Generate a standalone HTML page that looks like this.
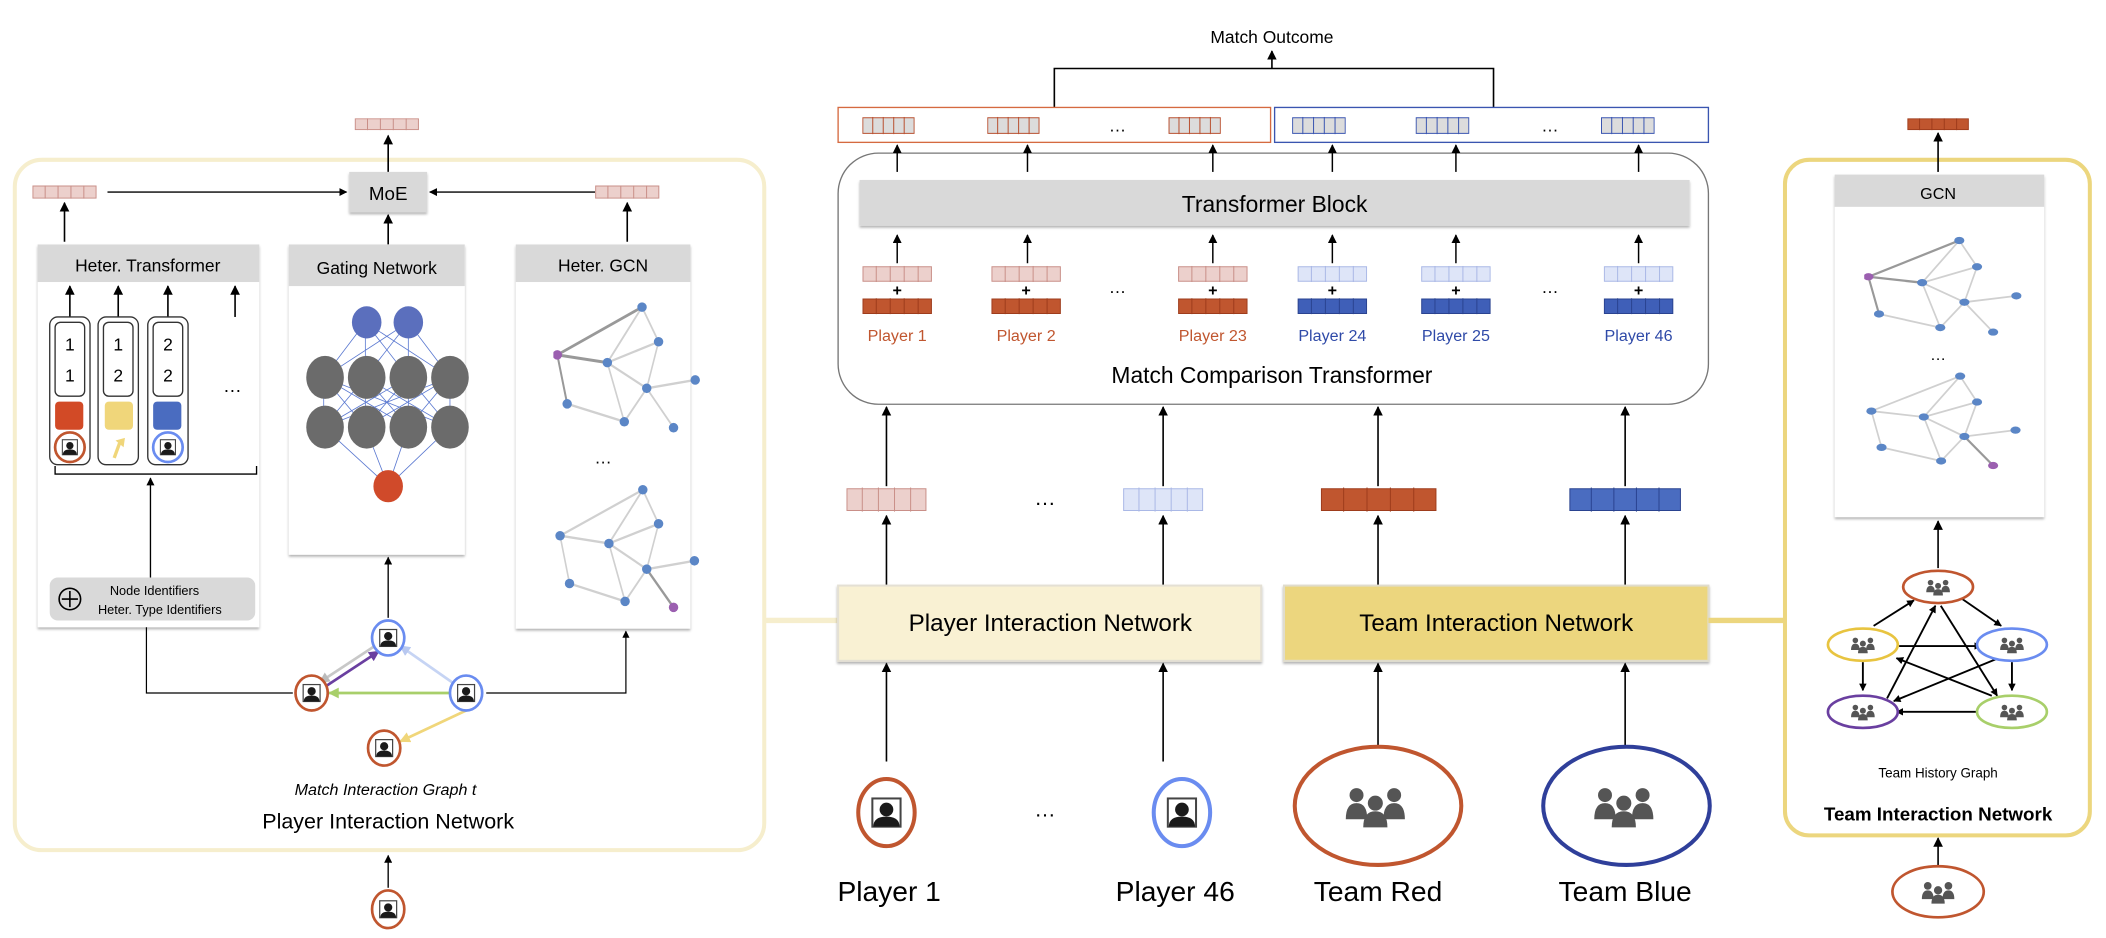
<!DOCTYPE html>
<html><head><meta charset="utf-8"><style>
html,body{margin:0;padding:0;background:#fff}
svg{display:block}
text{font-family:"Liberation Sans",sans-serif}
</style></head><body>
<svg width="2106" height="938" viewBox="0 0 1568 698.4" xmlns="http://www.w3.org/2000/svg">
<defs>
<marker id="ah" viewBox="0 0 10 10" refX="9" refY="5" markerWidth="6" markerHeight="6" orient="auto-start-reverse"><path d="M0 0L10 5L0 10z" fill="#000"/></marker>
<marker id="ahs" viewBox="0 0 10 10" refX="9" refY="5" markerWidth="4" markerHeight="4" orient="auto"><path d="M0 0L10 5L0 10z" fill="#000"/></marker>
<marker id="mg" viewBox="0 0 10 10" refX="9" refY="5" markerWidth="4" markerHeight="4" orient="auto"><path d="M0 0L10 5L0 10z" fill="#bbb"/></marker>
<marker id="mp" viewBox="0 0 10 10" refX="9" refY="5" markerWidth="4" markerHeight="4" orient="auto"><path d="M0 0L10 5L0 10z" fill="#6a3fa0"/></marker>
<marker id="mb" viewBox="0 0 10 10" refX="9" refY="5" markerWidth="4" markerHeight="4" orient="auto"><path d="M0 0L10 5L0 10z" fill="#b8c8f0"/></marker>
<marker id="mgr" viewBox="0 0 10 10" refX="9" refY="5" markerWidth="4" markerHeight="4" orient="auto"><path d="M0 0L10 5L0 10z" fill="#a8cf6a"/></marker>
<marker id="my" viewBox="0 0 10 10" refX="9" refY="5" markerWidth="4" markerHeight="4" orient="auto"><path d="M0 0L10 5L0 10z" fill="#f0d67a"/></marker>
<symbol id="v" viewBox="0 0 50 10" preserveAspectRatio="none"><rect x="0.5" y="0.5" width="49" height="9" vector-effect="non-scaling-stroke"/><path d="M10 0v10M20 0v10M30 0v10M40 0v10" vector-effect="non-scaling-stroke"/></symbol>
<symbol id="p" viewBox="-10 -10 20 20"><rect x="-7" y="-7" width="14" height="14" fill="#fff" stroke="#444" stroke-width="1"/><circle cx="0" cy="-1.5" r="3.4" fill="#1a1a1a"/><path d="M-6.5 7Q-6.5 2 0 2Q6.5 2 6.5 7z" fill="#1a1a1a"/></symbol>
<symbol id="t" viewBox="-12 -10 24 20"><g fill="#555"><circle cx="-7" cy="-4" r="2.6"/><circle cx="7" cy="-4" r="2.6"/><path d="M-11 5Q-11 -1 -7 -1Q-3 -1 -3 5z"/><path d="M3 5Q3 -1 7 -1Q11 -1 11 5z"/><circle cx="0" cy="-1" r="2.8"/><path d="M-4.5 8Q-4.5 2 0 2Q4.5 2 4.5 8z"/></g></symbol>
<symbol id="g1" viewBox="375 225 375 225" preserveAspectRatio="none">
<g stroke="#d0d0d0" stroke-width="4" fill="none"><path d="M600 240L512 333M600 240L642 298M512 333L642 298M512 333L612 376M642 298L612 376M612 376L735 362M612 376L555 432M612 376L680 442M512 333L555 432M410 402L555 432"/></g>
<g stroke="#999" stroke-width="5"><path d="M385 320L600 240M385 320L512 333M385 320L410 402"/></g>
<g fill="#5b86c6"><ellipse cx="600" cy="240" rx="12" ry="8"/><ellipse cx="642" cy="298" rx="12" ry="8"/><ellipse cx="512" cy="333" rx="12" ry="8"/><ellipse cx="612" cy="376" rx="12" ry="8"/><ellipse cx="735" cy="362" rx="12" ry="8"/><ellipse cx="410" cy="402" rx="12" ry="8"/><ellipse cx="555" cy="432" rx="12" ry="8"/><ellipse cx="680" cy="442" rx="12" ry="8"/></g><ellipse cx="385" cy="320" rx="12" ry="8" fill="#9b5fb0"/></symbol>
<symbol id="g2" viewBox="375 528 375 225" preserveAspectRatio="none">
<g stroke="#d0d0d0" stroke-width="4" fill="none"><path d="M392 620L602 543M602 543L516 633M602 543L642 600M516 633L642 600M392 620L516 633M392 620L416 700M516 633L612 676M516 633L557 730M642 600L612 676M612 676L733 662M612 676L557 730M416 700L557 730"/></g>
<path d="M612 676L680 740" stroke="#999" stroke-width="5"/>
<g fill="#5b86c6"><ellipse cx="602" cy="543" rx="12" ry="8"/><ellipse cx="642" cy="600" rx="12" ry="8"/><ellipse cx="392" cy="620" rx="12" ry="8"/><ellipse cx="516" cy="633" rx="12" ry="8"/><ellipse cx="612" cy="676" rx="12" ry="8"/><ellipse cx="733" cy="662" rx="12" ry="8"/><ellipse cx="416" cy="700" rx="12" ry="8"/><ellipse cx="557" cy="730" rx="12" ry="8"/></g><ellipse cx="680" cy="740" rx="12" ry="8" fill="#9b5fb0"/></symbol>
<filter id="sh" x="-5%" y="-5%" width="110%" height="115%"><feDropShadow dx="0" dy="1.5" stdDeviation="1" flood-color="#000" flood-opacity="0.3"/></filter>
</defs>

<!-- ============ LEFT PANEL ============ -->
<rect x="11" y="119" width="558" height="514" rx="20" fill="none" stroke="#f6eecd" stroke-width="3"/>
<line x1="570" y1="462" x2="624" y2="462" stroke="#f6eecd" stroke-width="4"/>
<use href="#v" x="264" y="88" width="48" height="9" fill="#ecd0cc" stroke="#c98f88"/>
<line x1="289" y1="128" x2="289" y2="101" stroke="#000" stroke-width="1.2" marker-end="url(#ah)"/>
<rect x="260" y="128" width="58" height="30" fill="#d9d9d9" filter="url(#sh)"/>
<text x="289" y="149" font-size="14" text-anchor="middle">MoE</text>
<use href="#v" x="24" y="138" width="48" height="10" fill="#ecd0cc" stroke="#c98f88"/>
<use href="#v" x="443" y="138" width="48" height="10" fill="#ecd0cc" stroke="#c98f88"/>
<line x1="80" y1="143" x2="258" y2="143" stroke="#000" stroke-width="1" marker-end="url(#ah)"/>
<line x1="443" y1="143" x2="320" y2="143" stroke="#000" stroke-width="1" marker-end="url(#ah)"/>
<line x1="48" y1="180" x2="48" y2="151" stroke="#000" stroke-width="1.2" marker-end="url(#ah)"/>
<line x1="467" y1="180" x2="467" y2="151" stroke="#000" stroke-width="1.2" marker-end="url(#ah)"/>
<line x1="289" y1="182" x2="289" y2="160" stroke="#000" stroke-width="1.2" marker-end="url(#ah)"/>

<!-- Heter Transformer -->
<rect x="28" y="182" width="165" height="285" fill="#fff" filter="url(#sh)"/>
<rect x="28" y="182" width="165" height="28" fill="#d9d9d9"/>
<text x="110" y="202" font-size="13" text-anchor="middle">Heter. Transformer</text>
<g stroke="#000" stroke-width="1.2"><line x1="52" y1="236" x2="52" y2="213" marker-end="url(#ah)"/><line x1="88" y1="236" x2="88" y2="213" marker-end="url(#ah)"/><line x1="125" y1="236" x2="125" y2="213" marker-end="url(#ah)"/><line x1="175" y1="236" x2="175" y2="213" marker-end="url(#ah)"/></g>
<g fill="none" stroke="#333" stroke-width="1"><rect x="37" y="236" width="30" height="110" rx="6"/><rect x="73" y="236" width="30" height="110" rx="6"/><rect x="110" y="236" width="30" height="110" rx="6"/>
<rect x="41" y="240" width="22" height="55" rx="4"/><rect x="77" y="240" width="22" height="55" rx="4"/><rect x="114" y="240" width="22" height="55" rx="4"/></g>
<g font-size="13" text-anchor="middle"><text x="52" y="261">1</text><text x="52" y="284">1</text><text x="88" y="261">1</text><text x="88" y="284">2</text><text x="125" y="261">2</text><text x="125" y="284">2</text></g>
<rect x="41" y="299" width="21" height="21" rx="3" fill="#d24a26"/>
<rect x="78" y="299" width="21" height="21" rx="3" fill="#f0d67a"/>
<rect x="114" y="299" width="21" height="21" rx="3" fill="#4a6cc0"/>
<circle cx="52" cy="333" r="11" fill="#fff" stroke="#c0562f" stroke-width="2"/><use href="#p" x="44" y="325" width="16" height="16"/>
<circle cx="125" cy="333" r="11" fill="#fff" stroke="#6a8cf0" stroke-width="2"/><use href="#p" x="117" y="325" width="16" height="16"/>
<path d="M85 341L89 330" stroke="#f0d67a" stroke-width="2.5"/><path d="M86 328L93 326L92 333z" fill="#f0d67a"/>
<text x="173" y="292" font-size="14" text-anchor="middle">…</text>
<path d="M41 347v6h150v-6" fill="none" stroke="#000" stroke-width="1"/>
<line x1="112" y1="430" x2="112" y2="356" stroke="#000" stroke-width="1" marker-end="url(#ah)"/>
<rect x="37" y="430" width="153" height="32" rx="6" fill="#d9d9d9"/>
<circle cx="52" cy="446" r="8" fill="none" stroke="#000" stroke-width="1.2"/><path d="M46 446h12M52 440v12" stroke="#000" stroke-width="1.2"/>
<text x="115" y="443" font-size="9.5" text-anchor="middle">Node Identifiers</text>
<text x="119" y="457" font-size="9.5" text-anchor="middle">Heter. Type Identifiers</text>

<!-- Gating -->
<rect x="215" y="182" width="131" height="231" fill="#fff" filter="url(#sh)"/>
<rect x="215" y="182" width="131" height="31" fill="#d9d9d9"/>
<text x="280.5" y="204" font-size="13" text-anchor="middle">Gating Network</text>
<g stroke="#5a78d0" stroke-width="0.6">
<path d="M272 240L241 281M272 240L272 281M272 240L304 281M272 240L335 281M304 240L241 281M304 240L272 281M304 240L304 281M304 240L335 281"/>
<path d="M241 281L241 318M241 281L272 318M241 281L304 318M241 281L335 318M272 281L241 318M272 281L272 318M272 281L304 318M272 281L335 318M304 281L241 318M304 281L272 318M304 281L304 318M304 281L335 318M335 281L241 318M335 281L272 318M335 281L304 318M335 281L335 318"/>
<path d="M241 318L289 362M272 318L289 362M304 318L289 362M335 318L289 362"/></g>
<g fill="#5b6fbd"><ellipse cx="273" cy="240" rx="11" ry="12"/><ellipse cx="304" cy="240" rx="11" ry="12"/></g>
<g fill="#6b6b6b"><ellipse cx="242" cy="281" rx="14" ry="16"/><ellipse cx="273" cy="281" rx="14" ry="16"/><ellipse cx="304" cy="281" rx="14" ry="16"/><ellipse cx="335" cy="281" rx="14" ry="16"/><ellipse cx="242" cy="318" rx="14" ry="16"/><ellipse cx="273" cy="318" rx="14" ry="16"/><ellipse cx="304" cy="318" rx="14" ry="16"/><ellipse cx="335" cy="318" rx="14" ry="16"/></g>
<ellipse cx="289" cy="362" rx="11" ry="12" fill="#d04a2a"/>

<!-- Heter GCN -->
<rect x="384" y="182" width="130" height="286" fill="#fff" filter="url(#sh)"/>
<rect x="384" y="182" width="130" height="28" fill="#d9d9d9"/>
<text x="449" y="202" font-size="13" text-anchor="middle">Heter. GCN</text>
<use href="#g1" x="412" y="222" width="110" height="100"/>
<text x="449" y="345" font-size="13" text-anchor="middle">…</text>
<use href="#g2" x="412" y="358" width="110" height="100"/>

<!-- match interaction graph -->
<path d="M109 467V516H218" fill="none" stroke="#000" stroke-width="0.9"/>
<path d="M362 516H466V470" fill="none" stroke="#000" stroke-width="0.9" marker-end="url(#ah)"/>
<line x1="289" y1="460" x2="289" y2="415" stroke="#000" stroke-width="1" marker-end="url(#ah)"/>
<line x1="279" y1="481" x2="238" y2="508" stroke="#c8c8c8" stroke-width="2" marker-end="url(#mg)"/>
<line x1="241" y1="512" x2="282" y2="485" stroke="#6a3fa0" stroke-width="2" marker-end="url(#mp)"/>
<line x1="338" y1="509" x2="298" y2="481" stroke="#c6d4f4" stroke-width="2" marker-end="url(#mb)"/>
<line x1="335" y1="516" x2="245" y2="516" stroke="#a8cf6a" stroke-width="2" marker-end="url(#mgr)"/>
<line x1="347" y1="529" x2="298" y2="552" stroke="#f0d67a" stroke-width="2" marker-end="url(#my)"/>
<ellipse cx="289" cy="475" rx="12" ry="13" fill="#fff" stroke="#6a8cf0" stroke-width="2"/><use href="#p" x="280" y="466" width="18" height="18"/>
<ellipse cx="232" cy="516" rx="12" ry="13" fill="#fff" stroke="#c0562f" stroke-width="2"/><use href="#p" x="223" y="507" width="18" height="18"/>
<ellipse cx="347" cy="516" rx="12" ry="13" fill="#fff" stroke="#6a8cf0" stroke-width="2"/><use href="#p" x="338" y="507" width="18" height="18"/>
<ellipse cx="286" cy="557" rx="12" ry="13" fill="#fff" stroke="#c0562f" stroke-width="2"/><use href="#p" x="277" y="548" width="18" height="18"/>
<text x="287" y="592" font-size="12" font-style="italic" text-anchor="middle">Match Interaction Graph t</text>
<text x="289" y="617" font-size="16" text-anchor="middle">Player Interaction Network</text>
<line x1="289" y1="661" x2="289" y2="637" stroke="#000" stroke-width="1" marker-end="url(#ah)"/>
<ellipse cx="289" cy="677" rx="12" ry="14" fill="#fff" stroke="#c0562f" stroke-width="2"/><use href="#p" x="280" y="668" width="18" height="18"/>

<!-- ============ CENTER ============ -->
<text x="947" y="32" font-size="13" text-anchor="middle">Match Outcome</text>
<path d="M785 80V51H1112V80" fill="none" stroke="#000" stroke-width="1.2"/>
<line x1="947" y1="51" x2="947" y2="38" stroke="#000" stroke-width="1.2" marker-end="url(#ah)"/>
<rect x="624" y="80" width="322" height="26" fill="none" stroke="#d56a40" stroke-width="1"/>
<rect x="949" y="80" width="323" height="26" fill="none" stroke="#3a55b0" stroke-width="1"/>
<g fill="#dcdcdc" stroke="#b85030"><use href="#v" x="642" y="87" width="39" height="13"/><use href="#v" x="735" y="87" width="39" height="13"/><use href="#v" x="870" y="87" width="39" height="13"/></g>
<g fill="#dcdcdc" stroke="#3a55b0"><use href="#v" x="962" y="87" width="40" height="13"/><use href="#v" x="1054" y="87" width="40" height="13"/><use href="#v" x="1192" y="87" width="40" height="13"/></g>
<text x="832" y="98" font-size="13" text-anchor="middle">…</text><text x="1154" y="98" font-size="13" text-anchor="middle">…</text>
<rect x="624" y="114" width="648" height="187" rx="30" fill="none" stroke="#777" stroke-width="1"/>
<g stroke="#000" stroke-width="1.1">
<line x1="668" y1="128" x2="668" y2="108" marker-end="url(#ah)"/><line x1="765" y1="128" x2="765" y2="108" marker-end="url(#ah)"/><line x1="903" y1="128" x2="903" y2="108" marker-end="url(#ah)"/><line x1="992" y1="128" x2="992" y2="108" marker-end="url(#ah)"/><line x1="1084" y1="128" x2="1084" y2="108" marker-end="url(#ah)"/><line x1="1220" y1="128" x2="1220" y2="108" marker-end="url(#ah)"/>
<line x1="668" y1="196" x2="668" y2="175" marker-end="url(#ah)"/><line x1="765" y1="196" x2="765" y2="175" marker-end="url(#ah)"/><line x1="903" y1="196" x2="903" y2="175" marker-end="url(#ah)"/><line x1="992" y1="196" x2="992" y2="175" marker-end="url(#ah)"/><line x1="1084" y1="196" x2="1084" y2="175" marker-end="url(#ah)"/><line x1="1220" y1="196" x2="1220" y2="175" marker-end="url(#ah)"/>
</g>
<rect x="640" y="134" width="618" height="34" fill="#d9d9d9" filter="url(#sh)"/>
<text x="949" y="158" font-size="17" text-anchor="middle">Transformer Block</text>
<g fill="#ecd0cc" stroke="#c98f88"><use href="#v" x="642" y="198" width="52" height="12"/><use href="#v" x="738" y="198" width="52" height="12"/><use href="#v" x="877" y="198" width="52" height="12"/></g>
<g fill="#dee5f8" stroke="#aab8e6"><use href="#v" x="966" y="198" width="52" height="12"/><use href="#v" x="1058" y="198" width="52" height="12"/><use href="#v" x="1194" y="198" width="52" height="12"/></g>
<g fill="#c0562f" stroke="#9e3c1c"><use href="#v" x="642" y="222" width="52" height="12"/><use href="#v" x="738" y="222" width="52" height="12"/><use href="#v" x="877" y="222" width="52" height="12"/></g>
<g fill="#3f5fb8" stroke="#2a4390"><use href="#v" x="966" y="222" width="52" height="12"/><use href="#v" x="1058" y="222" width="52" height="12"/><use href="#v" x="1194" y="222" width="52" height="12"/></g>
<g font-size="12" text-anchor="middle" font-weight="bold"><text x="668" y="220">+</text><text x="764" y="220">+</text><text x="903" y="220">+</text><text x="992" y="220">+</text><text x="1084" y="220">+</text><text x="1220" y="220">+</text></g>
<text x="832" y="218" font-size="13" text-anchor="middle">…</text><text x="1154" y="218" font-size="13" text-anchor="middle">…</text>
<g font-size="12" text-anchor="middle" fill="#c0562f"><text x="668" y="254">Player 1</text><text x="764" y="254">Player 2</text><text x="903" y="254">Player 23</text></g>
<g font-size="12" text-anchor="middle" fill="#2f4aa8"><text x="992" y="254">Player 24</text><text x="1084" y="254">Player 25</text><text x="1220" y="254">Player 46</text></g>
<text x="947" y="285" font-size="17" text-anchor="middle">Match Comparison Transformer</text>
<g stroke="#000" stroke-width="1.2">
<line x1="660" y1="362" x2="660" y2="303" marker-end="url(#ah)"/><line x1="866" y1="362" x2="866" y2="303" marker-end="url(#ah)"/><line x1="1026" y1="362" x2="1026" y2="303" marker-end="url(#ah)"/><line x1="1210" y1="362" x2="1210" y2="303" marker-end="url(#ah)"/>
<line x1="660" y1="436" x2="660" y2="384" marker-end="url(#ah)"/><line x1="866" y1="436" x2="866" y2="384" marker-end="url(#ah)"/><line x1="1026" y1="436" x2="1026" y2="384" marker-end="url(#ah)"/><line x1="1210" y1="436" x2="1210" y2="384" marker-end="url(#ah)"/>
<line x1="660" y1="567" x2="660" y2="494" marker-end="url(#ah)"/><line x1="866" y1="567" x2="866" y2="494" marker-end="url(#ah)"/><line x1="1026" y1="556" x2="1026" y2="494" marker-end="url(#ah)"/><line x1="1210" y1="556" x2="1210" y2="494" marker-end="url(#ah)"/>
</g>
<use href="#v" x="630" y="363" width="60" height="18" fill="#ecd0cc" stroke="#c98f88"/>
<use href="#v" x="836" y="363" width="60" height="18" fill="#dee5f8" stroke="#aab8e6"/>
<use href="#v" x="983" y="363" width="87" height="18" fill="#c0562f" stroke="#9e3c1c"/>
<use href="#v" x="1168" y="363" width="84" height="18" fill="#4a6cc0" stroke="#2a4390"/>
<text x="778" y="376" font-size="16" text-anchor="middle">…</text>
<rect x="624" y="436" width="315" height="56" fill="#f9f1d3" stroke="#e4e0d4" stroke-width="1.5" filter="url(#sh)"/>
<text x="782" y="470" font-size="18" text-anchor="middle">Player Interaction Network</text>
<rect x="956" y="436" width="316" height="56" fill="#ecd67e" stroke="#e0dccc" stroke-width="1.5" filter="url(#sh)"/>
<text x="1114" y="470" font-size="18" text-anchor="middle">Team Interaction Network</text>
<line x1="1272" y1="462" x2="1330" y2="462" stroke="#ecd67e" stroke-width="4"/>

<ellipse cx="660" cy="605" rx="21" ry="25" fill="#fff" stroke="#c0562f" stroke-width="3"/><use href="#p" x="645" y="590" width="30" height="30"/>
<text x="778" y="608" font-size="16" text-anchor="middle">…</text>
<ellipse cx="880" cy="605" rx="21" ry="25" fill="#fff" stroke="#6a8cf0" stroke-width="3"/><use href="#p" x="865" y="590" width="30" height="30"/>
<ellipse cx="1026" cy="600" rx="62" ry="44" fill="#fff" stroke="#c0562f" stroke-width="3"/><use href="#t" x="1000" y="580" width="48" height="40"/>
<ellipse cx="1211" cy="600" rx="62" ry="44" fill="#fff" stroke="#2f3f9a" stroke-width="3"/><use href="#t" x="1185" y="580" width="48" height="40"/>
<g font-size="21" text-anchor="middle"><text x="662" y="671">Player 1</text><text x="875" y="671">Player 46</text><text x="1026" y="671">Team Red</text><text x="1210" y="671">Team Blue</text></g>

<!-- ============ RIGHT PANEL ============ -->
<rect x="1329" y="119" width="227" height="503" rx="18" fill="none" stroke="#ecd67e" stroke-width="3"/>
<use href="#v" x="1420" y="88" width="46" height="9" fill="#c0562f" stroke="#9e3c1c"/>
<line x1="1443" y1="128" x2="1443" y2="99" stroke="#000" stroke-width="1.2" marker-end="url(#ah)"/>
<rect x="1366" y="130" width="156" height="255" fill="#fff" filter="url(#sh)"/>
<rect x="1366" y="130" width="156" height="24" fill="#d9d9d9"/>
<text x="1443" y="148" font-size="12" text-anchor="middle">GCN</text>
<use href="#g1" x="1388" y="174" width="118" height="76"/>
<text x="1443" y="268" font-size="12" text-anchor="middle">…</text>
<use href="#g2" x="1388" y="275" width="118" height="76"/>
<line x1="1443" y1="423" x2="1443" y2="388" stroke="#000" stroke-width="1.2" marker-end="url(#ah)"/>
<g stroke="#000" stroke-width="1.4" fill="none">
<line x1="1395" y1="466" x2="1425" y2="447" marker-end="url(#ahs)"/>
<line x1="1461" y1="446" x2="1490" y2="466" marker-end="url(#ahs)"/>
<line x1="1414" y1="481" x2="1475" y2="481" marker-end="url(#ahs)"/>
<line x1="1387" y1="493" x2="1387" y2="514" marker-end="url(#ahs)"/>
<line x1="1498" y1="493" x2="1498" y2="514" marker-end="url(#ahs)"/>
<line x1="1475" y1="530" x2="1412" y2="530" marker-end="url(#ahs)"/>
<line x1="1405" y1="520" x2="1441" y2="451" marker-end="url(#ahs)"/>
<line x1="1445" y1="451" x2="1487" y2="518" marker-end="url(#ahs)"/>
<line x1="1483" y1="518" x2="1412" y2="490" marker-end="url(#ahs)"/>
<line x1="1488" y1="490" x2="1410" y2="522" marker-end="url(#ahs)"/>
</g>
<ellipse cx="1443" cy="437" rx="26" ry="12" fill="#fff" stroke="#c0562f" stroke-width="2"/><use href="#t" x="1431" y="429" width="24" height="16"/>
<ellipse cx="1387" cy="480" rx="26" ry="12" fill="#fff" stroke="#e8c440" stroke-width="2"/><use href="#t" x="1375" y="472" width="24" height="16"/>
<ellipse cx="1498" cy="480" rx="26" ry="12" fill="#fff" stroke="#6a8cf0" stroke-width="2"/><use href="#t" x="1486" y="472" width="24" height="16"/>
<ellipse cx="1387" cy="530" rx="26" ry="12" fill="#fff" stroke="#6a3fa0" stroke-width="2"/><use href="#t" x="1375" y="522" width="24" height="16"/>
<ellipse cx="1498" cy="530" rx="26" ry="12" fill="#fff" stroke="#a8cf6a" stroke-width="2"/><use href="#t" x="1486" y="522" width="24" height="16"/>
<text x="1443" y="579" font-size="10" text-anchor="middle">Team History Graph</text>
<text x="1443" y="611" font-size="14" text-anchor="middle" font-weight="bold">Team Interaction Network</text>
<line x1="1443" y1="645" x2="1443" y2="624" stroke="#000" stroke-width="1.2" marker-end="url(#ah)"/>
<ellipse cx="1443" cy="664" rx="34" ry="19" fill="#fff" stroke="#c0562f" stroke-width="2"/><use href="#t" x="1426" y="653" width="34" height="22"/>
</svg>
</body></html>
